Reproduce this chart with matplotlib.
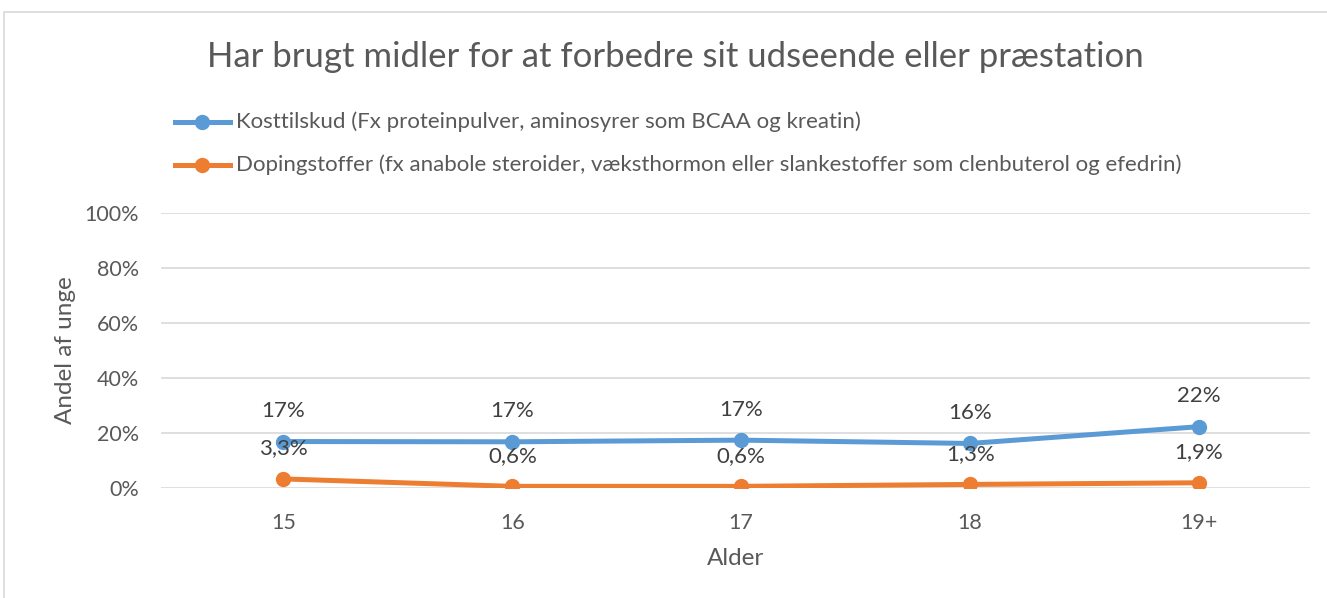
import matplotlib
matplotlib.use("Agg")
import matplotlib.pyplot as plt
from matplotlib.patches import Rectangle
from matplotlib.ticker import FuncFormatter

# ── Data ────────────────────────────────────────────────────────────
ages = ["15", "16", "17", "18", "19+"]
kost = [16.9, 16.8, 17.4, 16.2, 22.3]
kost_labels = ["17%", "17%", "17%", "16%", "22%"]
doping = [3.3, 0.6, 0.6, 1.3, 1.9]
doping_labels = ["3,3%", "0,6%", "0,6%", "1,3%", "1,9%"]

series_names = [
    "Kosttilskud (Fx proteinpulver, aminosyrer som BCAA og kreatin)",
    "Dopingstoffer (fx anabole steroider, væksthormon eller slankestoffer som clenbuterol og efedrin)",
]

_BLUE = "#5B9BD5"
_ORANGE = "#ED7D31"
_TEXT = "#595959"
_GRID = "#D9D9D9"

plt.rcParams["font.family"] = ["Lato", "DejaVu Sans"]

W, H = 1327, 598
fig = plt.figure(figsize=(W / 100, H / 100), dpi=100, facecolor="white")

# chart border
fig.patches.append(Rectangle((4 / W, -0.01), 1.2, 1 - 12 / H + 0.01,
                             transform=fig.transFigure, fill=False,
                             edgecolor=_GRID, linewidth=1.2))

ax = fig.add_axes([161 / W, 1 - 488 / H, (1310 - 161) / W, (488 - 213) / H])
x = list(range(len(ages)))

ax.plot(x, kost, color=_BLUE, lw=3.6, marker="o", ms=10, zorder=3)
ax.plot(x, doping, color=_ORANGE, lw=3.6, marker="o", ms=10, zorder=3)

for xi, v, lab in zip(x, kost, kost_labels):
    ax.annotate(lab, (xi, v), xytext=(0, 22), textcoords="offset points",
                ha="center", va="center", fontsize=16, color="#404040")
for xi, v, lab in zip(x, doping, doping_labels):
    ax.annotate(lab, (xi, v), xytext=(0, 22), textcoords="offset points",
                ha="center", va="center", fontsize=16, color="#404040")

ax.set_xlim(-0.535, 4.485)
ax.set_ylim(0, 100)
ax.set_yticks(range(0, 101, 20))
ax.yaxis.set_major_formatter(FuncFormatter(lambda v, p: f"{int(v)}%"))
ax.set_xticks(x)
ax.set_xticklabels(ages)
ax.grid(axis="y", color=_GRID, lw=1.2)
ax.set_axisbelow(True)
for s in ax.spines.values():
    s.set_visible(False)
ax.tick_params(length=0, labelsize=15.5, colors=_TEXT, pad=16)
ax.tick_params(axis="x", pad=18)

ax.set_xlabel("Alder", fontsize=17.5, color=_TEXT, labelpad=11)
ax.set_ylabel("Andel af unge", fontsize=17.5, color=_TEXT, labelpad=6)

fig.text(675 / W, 1 - 57 / H, "Har brugt midler for at forbedre sit udseende eller præstation",
         ha="center", va="center", fontsize=25, color=_TEXT)

# legend drawn manually to match layout
for i, (name, col) in enumerate(zip(series_names, [_BLUE, _ORANGE])):
    yy = 1 - (122 + 43 * i) / H
    fig.add_artist(plt.Line2D([175 / W, 230 / W], [yy, yy], color=col, lw=3.6,
                              transform=fig.transFigure))
    fig.add_artist(plt.Line2D([202 / W], [yy], color=col, marker="o", ms=10,
                              transform=fig.transFigure))
    fig.text(236 / W, yy, name, ha="left", va="center", fontsize=16, color=_TEXT)

fig.savefig("out.png", dpi=100, facecolor="white")
